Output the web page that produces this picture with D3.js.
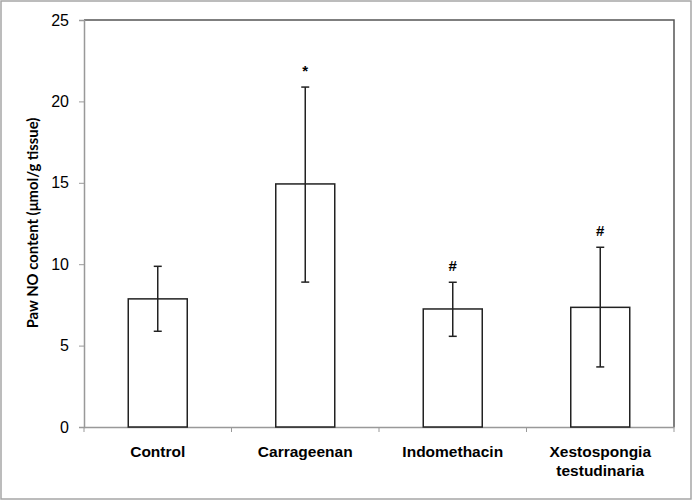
<!DOCTYPE html>
<html><head><meta charset="utf-8">
<script src="https://cdn.jsdelivr.net/npm/d3@7"></script>
<style>body{margin:0;background:#fff}svg{display:block}</style>
</head><body>
<script>
const categories = ["Control", "Carrageenan", "Indomethacin", "Xestospongia testudinaria"];
const means = [7.87, 14.93, 7.25, 7.35];
const errLow = [5.88, 8.9, 5.57, 3.69];
const errHigh = [9.87, 20.88, 8.89, 11.04];
const marks = ["", "*", "#", "#"];
const yTicks = [0, 5, 10, 15, 20, 25];

const W = 693, H = 501;
const m = {left: 84, right: 19, top: 20, bottom: 74};
const svg = d3.select("body").append("svg").attr("width", W).attr("height", H);
svg.append("rect").attr("x", 1).attr("y", 1).attr("width", W - 3).attr("height", H - 3)
  .attr("fill", "#fff").attr("stroke", "#a6a6a6").attr("stroke-width", 1.5);

const x = d3.scaleBand().domain(categories).range([m.left, W - m.right]).paddingInner(0).paddingOuter(0);
const y = d3.scaleLinear().domain([0, 25]).range([H - m.bottom, m.top]);
const bw = x.bandwidth() * 0.4;

// plot frame (top/right)
svg.append("path").attr("d", `M${m.left},${m.top}H${W - m.right}V${H - m.bottom}`)
  .attr("fill", "none").attr("stroke", "#555").attr("stroke-width", 1.5);

// y axis
const ya = svg.append("g").attr("transform", `translate(${m.left},0)`)
  .call(d3.axisLeft(y).tickValues(yTicks).tickSize(5).tickPadding(10));
ya.select(".domain").attr("stroke", "#999").attr("stroke-width", 1.5);
ya.selectAll(".tick line").attr("stroke", "#999");
ya.selectAll("text").attr("font-family", "Liberation Sans, Arial, sans-serif").attr("font-size", 16).attr("fill", "#000");

// x axis
const xa = svg.append("g").attr("transform", `translate(0,${H - m.bottom})`)
  .call(d3.axisBottom(x).tickSize(0).tickFormat(""));
xa.select(".domain").attr("stroke", "#999").attr("stroke-width", 1.5);
const bounds = categories.map(c => x(c)).concat([W - m.right]);
svg.selectAll(".xt").data(bounds).enter().append("line")
  .attr("x1", d => d).attr("x2", d => d).attr("y1", H - m.bottom).attr("y2", H - m.bottom + 5)
  .attr("stroke", "#999");

// x labels
const lab = svg.selectAll(".xl").data(categories).enter().append("text")
  .attr("x", d => x(d) + x.bandwidth() / 2).attr("y", 457)
  .attr("text-anchor", "middle").attr("font-family", "Liberation Sans, Arial, sans-serif")
  .attr("font-weight", "bold").attr("font-size", 15.5).attr("fill", "#000");
lab.each(function(d) {
  const words = d === "Xestospongia testudinaria" ? ["Xestospongia", "testudinaria"] : [d];
  const t = d3.select(this);
  words.forEach((w, i) => t.append("tspan").attr("x", x(d) + x.bandwidth() / 2).attr("dy", i ? 19 : 0).text(w));
});

// bars
svg.selectAll(".bar").data(categories).enter().append("rect")
  .attr("x", d => x(d) + (x.bandwidth() - bw) / 2).attr("width", bw)
  .attr("y", (d, i) => y(means[i])).attr("height", (d, i) => y(0) - y(means[i]))
  .attr("fill", "#fff").attr("stroke", "#222").attr("stroke-width", 1.5);

// error bars
const cx = d => x(d) + x.bandwidth() / 2;
const eb = svg.selectAll(".eb").data(categories).enter().append("g").attr("stroke", "#222").attr("stroke-width", 1.5);
eb.append("line").attr("x1", cx).attr("x2", cx).attr("y1", (d, i) => y(errLow[i])).attr("y2", (d, i) => y(errHigh[i]));
eb.append("line").attr("x1", d => cx(d) - 4).attr("x2", d => cx(d) + 4).attr("y1", (d, i) => y(errLow[i])).attr("y2", (d, i) => y(errLow[i]));
eb.append("line").attr("x1", d => cx(d) - 4).attr("x2", d => cx(d) + 4).attr("y1", (d, i) => y(errHigh[i])).attr("y2", (d, i) => y(errHigh[i]));

// significance marks
svg.selectAll(".mk").data(categories).enter().append("text")
  .attr("x", cx).attr("y", (d, i) => y(errHigh[i]) - 11)
  .attr("text-anchor", "middle").attr("font-family", "Liberation Sans, Arial, sans-serif")
  .attr("font-weight", "bold").attr("font-size", 15).attr("fill", "#000")
  .text((d, i) => marks[i]);

// y title
svg.append("text").attr("transform", `translate(38,223) rotate(-90)`)
  .attr("text-anchor", "middle").attr("font-family", "Lato, 'Open Sans', sans-serif")
  .attr("font-weight", "bold").attr("font-size", 14.8).attr("fill", "#000")
  .text("Paw NO content (μmol/g tissue)");
</script>
</body></html>
